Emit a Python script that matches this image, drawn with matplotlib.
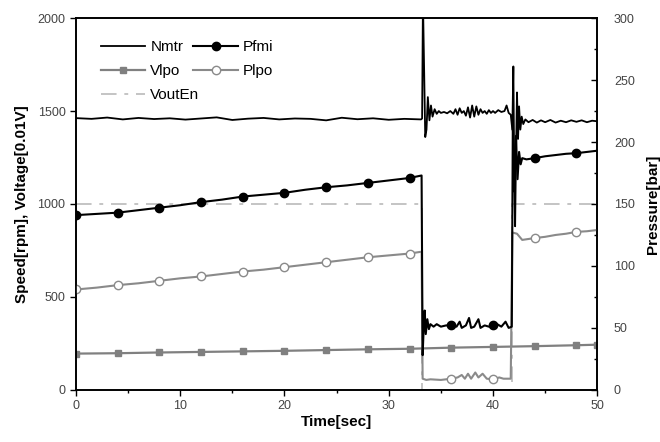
import numpy as np
import matplotlib
matplotlib.use("Agg")
import matplotlib.pyplot as plt
from matplotlib.ticker import MultipleLocator

plt.rcParams['font.family'] = ['Liberation Sans', 'DejaVu Sans']

# ---------------- data ----------------
# Nmtr (rpm, left axis)
nmtr_t = [0, 1.5, 3, 4.5, 6, 7.5, 9, 10.5, 12, 13.5, 15, 16.5, 18, 19.5, 21, 22.5, 24, 25.5, 27, 28.5,
          30, 31.5, 33.1,
          33.2, 33.28, 33.4, 33.5, 33.62, 33.75, 33.9, 34.05, 34.2, 34.4, 34.6, 34.8, 35.0, 35.3, 35.6,
          35.9, 36.2, 36.4, 36.6, 36.8, 37.0, 37.2, 37.4, 37.6, 37.8, 38.0, 38.2, 38.4, 38.6, 38.8,
          39.0, 39.2, 39.4, 39.6, 39.8, 40.0, 40.2, 40.5, 40.8, 41.1, 41.3, 41.5, 41.7,
          41.85, 41.95, 42.05, 42.12, 42.2, 42.3, 42.4, 42.5, 42.62, 42.75, 42.9, 43.1,
          43.4, 43.8, 44.2, 44.6, 45, 45.5, 46, 46.5, 47, 47.5, 48, 48.5, 49, 49.5, 50]
nmtr_v = [1462, 1458, 1465, 1455, 1463, 1457, 1461, 1454, 1460, 1466, 1452, 1459, 1463, 1455, 1460,
          1458, 1450, 1464, 1456, 1461, 1453, 1458, 1455,
          1460, 2100, 1700, 1360, 1400, 1575, 1450, 1530, 1470, 1510, 1485, 1500, 1490, 1495, 1488,
          1500, 1485, 1510, 1480, 1515, 1490, 1500, 1475, 1520, 1465, 1530, 1470, 1525, 1480, 1510,
          1490, 1500, 1485, 1505, 1490, 1500, 1490, 1505, 1495, 1500, 1530, 1490, 1480,
          1400, 1740, 1050, 880, 1250, 1600, 1350, 1525, 1400, 1470, 1430, 1455,
          1440, 1452, 1438, 1450, 1440, 1452, 1438, 1448, 1440, 1450, 1442, 1450, 1440, 1448, 1445]

# Pfmi (bar, right axis)
pfmi_t = [0, 2, 4, 6, 8, 10, 12, 14, 16, 18, 20, 22, 24, 26, 28, 30, 32, 33.15,
          33.25, 33.35, 33.45, 33.55, 33.7, 33.85, 34.0, 34.3, 34.6, 35, 35.5, 36, 36.5, 36.8, 37.0,
          37.4, 37.7, 37.9, 38.2, 38.6, 38.8, 39.2, 39.6, 40, 40.4, 40.8, 41.2, 41.5, 41.8,
          41.9, 42.05, 42.2, 42.35, 42.5, 42.65, 42.8, 43.2, 44, 45, 46, 47, 48, 49, 50]
pfmi_v = [141, 142, 143, 145, 147, 149, 151.5, 153.5, 156, 157.5, 159, 161.5, 163.5, 165, 167, 169,
          171, 173,
          28, 50, 64, 45, 57, 49, 53, 51, 53, 51, 52, 52, 51, 55, 50,
          52, 58, 50, 51, 57, 50, 52, 51, 52, 53, 51, 55, 50, 51,
          215, 160, 205, 170, 192, 182, 187, 186, 187, 188.5, 189.5, 190.5, 191, 192, 193]
pfmi_marks = [0, 4, 8, 12, 16, 20, 24, 28, 32, 36, 40, 44, 48]

# Plpo (bar, right axis)
plpo_t = [0, 2, 4, 6, 8, 10, 12, 14, 16, 18, 20, 22, 24, 26, 28, 30, 32, 33.15,
          33.25, 33.6, 34, 35, 36, 36.6, 37, 37.3, 37.6, 37.9, 38.3, 38.6, 39, 39.4, 40, 40.6, 41, 41.7,
          41.85, 42.3, 42.8, 43.2, 44, 45, 46, 47, 48, 49, 50]
plpo_v = [81, 82.5, 84.5, 86, 88, 90, 91.5, 93.5, 95.5, 97, 99, 101, 103, 105, 107, 108.5, 110, 111.5,
          9, 8, 8.5, 8, 9, 10, 12, 9, 13, 9, 14, 10, 13, 9, 8.5, 10, 9, 9,
          127, 126, 121, 121.5, 122.5, 123.5, 125, 126, 127.5, 128, 129]
plpo_marks = [0, 4, 8, 12, 16, 20, 24, 28, 32, 36, 40, 44, 48]

# Vlpo (0.01 V, left axis)
vlpo_t = [0, 4, 8, 12, 16, 20, 24, 28, 32, 36, 40, 44, 48, 50]
vlpo_v = [195, 197, 201, 204, 207, 210, 214, 218, 221, 227, 231, 235, 240, 243]

# VoutEn (0.01 V, left axis)
vout_t = [0, 33.2, 33.2, 41.8, 41.8, 50]
vout_v = [1000, 1000, 0, 0, 1000, 1000]

# ---------------- plot ----------------
fig = plt.figure(figsize=(6.6, 4.42), dpi=100)
ax = fig.add_axes([0.115, 0.118, 0.79, 0.841])
ax2 = ax.twinx()

c_gray = '#808080'
c_plpo = '#8a8a8a'
c_vout = '#c4c4c4'

l_vout, = ax.plot(vout_t, vout_v, color=c_vout, lw=1.4, ls=(0, (8, 4, 2, 4)), label='VoutEn')
l_vlpo, = ax.plot(vlpo_t, vlpo_v, color=c_gray, lw=1.6, marker='s', ms=5, mfc=c_gray, mec=c_gray,
                  label='Vlpo')
l_nmtr, = ax.plot(nmtr_t, nmtr_v, color='black', lw=1.3, label='Nmtr')

pf_idx = np.where(np.isin(pfmi_t, pfmi_marks))[0].tolist()
pl_idx = np.where(np.isin(plpo_t, plpo_marks))[0].tolist()
l_plpo, = ax2.plot(plpo_t, plpo_v, color=c_plpo, lw=1.5, marker='o', ms=6, mfc='white', mec=c_plpo,
                   markevery=pl_idx, label='Plpo')
l_pfmi, = ax2.plot(pfmi_t, pfmi_v, color='black', lw=1.5, marker='o', ms=6, mfc='black', mec='black',
                   markevery=pf_idx, label='Pfmi')

ax.set_xlim(0, 50)
ax.set_ylim(0, 2000)
ax2.set_ylim(0, 300)

ax.xaxis.set_major_locator(MultipleLocator(10))
ax.xaxis.set_minor_locator(MultipleLocator(5))
ax.yaxis.set_major_locator(MultipleLocator(500))
ax2.yaxis.set_major_locator(MultipleLocator(50))
ax2.yaxis.set_minor_locator(MultipleLocator(25))

tick_col = '#444444'
ax.tick_params(axis='x', which='major', direction='out', length=4, width=1, labelsize=9, labelcolor=tick_col, top=False)
ax.tick_params(axis='x', which='minor', direction='out', length=2.5, width=1, top=False)
ax.tick_params(axis='y', which='major', direction='out', length=4, width=1, labelsize=9, labelcolor=tick_col, right=False)
ax2.tick_params(axis='y', which='major', direction='in', length=4, width=1, labelsize=9, labelcolor=tick_col, pad=12)
ax2.tick_params(axis='y', which='minor', direction='in', length=2.5, width=1)

for a in (ax, ax2):
    for s in a.spines.values():
        s.set_linewidth(1.2)

ax.set_xlabel('Time[sec]', fontsize=11, fontweight='bold', labelpad=2)
ax.set_ylabel('Speed[rpm], Voltage[0.01V]', fontsize=11, fontweight='bold', labelpad=6)
ax2.set_ylabel('Pressure[bar]', fontsize=11, fontweight='bold', labelpad=8)

handles = [l_nmtr, l_vlpo, l_vout, l_pfmi, l_plpo]
labels = [h.get_label() for h in handles]
leg = ax2.legend(handles, labels, ncol=2, loc='upper left', bbox_to_anchor=(0.03, 0.965),
                 frameon=False, fontsize=11, handlelength=2.9, columnspacing=-0.4,
                 handletextpad=0.35, labelspacing=0.65, borderaxespad=0.2)
for h in leg.legend_handles:
    if h.get_marker() not in (None, 'None', ''):
        h.set_markevery([1])

fig.savefig('out.png', dpi=100)
